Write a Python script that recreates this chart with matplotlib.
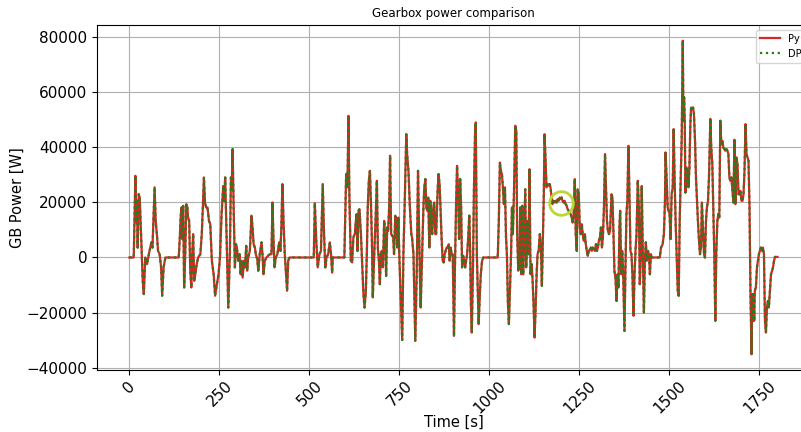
import matplotlib
matplotlib.use("Agg")
import matplotlib.pyplot as plt

title = "Gearbox power comparison"
x_label = "Time [s]"
y_label = "GB Power [W]"
series_names = ["Py", "DP"]
x_ticks = [0, 250, 500, 750, 1000, 1250, 1500, 1750]

time_s = [
    0, 12, 16.6, 19, 21, 23, 26, 28.7, 32, 37, 40, 44, 49, 54, 58, 61, 64, 67.5, 70, 73,
    77, 79.5, 84, 88, 91, 95, 100, 137, 140, 142.6, 145, 146.6, 149.4, 152, 155, 158, 161, 163, 166, 169,
    172, 174.5, 177, 180, 183, 187, 191, 197, 201, 204, 207, 210, 213, 217, 221, 224.6, 229, 234, 238, 243,
    247.6, 251.5, 256, 260.6, 263.4, 266, 270, 274.6, 279, 282, 284, 286.7, 289.5, 293, 296, 298.6, 302, 306, 309, 311.6,
    314.5, 318, 320.8, 324.5, 327, 330, 334.6, 339, 342, 345, 348.6, 351, 355, 358, 362, 367, 369.6, 372.4, 376, 380.7,
    385, 390, 394.6, 397.4, 400, 403, 406.6, 411, 416, 419.5, 422, 425, 428, 431.5, 435, 438, 441, 444.5, 512, 515,
    519, 523, 528, 532, 537, 540, 544, 547.5, 552, 556.6, 560, 563, 565, 597, 602, 605.6, 608.4, 611, 615, 618.6,
    622, 626, 629, 631, 633.5, 636.4, 639, 643, 646.6, 650, 653, 656.6, 659.4, 662, 665, 668, 670.7, 673.5, 676, 680,
    683.6, 687.4, 690, 693, 695.6, 698.4, 701, 704, 707.6, 710.4, 713, 716, 718.6, 721.4, 724, 727, 730, 732.6, 735, 738.4,
    741, 744, 747, 749.5, 752, 757.7, 761, 765, 769, 771.4, 775, 779, 783, 785, 789, 794, 798, 801.6, 804, 807.5,
    809, 813, 816.6, 819, 822, 824.7, 827.5, 830, 833, 835.7, 838.5, 841, 844, 846.6, 849.5, 852, 856, 858.6, 861.4, 864,
    867, 870, 873, 875.6, 878.4, 881, 884, 887, 889.5, 892.4, 895, 898, 901.5, 904, 907.3, 910, 913, 915.6, 918.6, 921.4,
    924, 927, 930, 932.6, 935.4, 938, 941, 944, 946.6, 948.5, 951, 954.5, 957, 960, 962, 965, 967.5, 970, 973, 976,
    979.5, 983, 1023, 1026, 1029, 1032, 1034.6, 1037.4, 1040, 1043, 1046, 1048.5, 1051.3, 1054, 1057, 1060, 1062.5, 1065, 1068, 1071.7,
    1074.5, 1077, 1080, 1083, 1085.6, 1088.5, 1091, 1094, 1097, 1099.4, 1102, 1106, 1108.5, 1111.3, 1114, 1117, 1119.7, 1122.5, 1125.3, 1128,
    1131, 1133.6, 1136.5, 1140, 1143, 1145.6, 1148.5, 1151, 1153, 1155.6, 1158.4, 1161, 1164, 1167, 1169.5, 1172.4, 1175, 1178, 1181, 1183.6,
    1186.4, 1189, 1192, 1195, 1197.6, 1200.4, 1203, 1206, 1209, 1211.6, 1214.4, 1217, 1220, 1223, 1225.6, 1228.4, 1231, 1234, 1237, 1239.7,
    1242.5, 1245, 1248, 1251, 1253.6, 1256.5, 1259, 1262, 1265, 1267.6, 1270.4, 1273, 1276, 1279, 1281.6, 1284.4, 1287, 1290, 1293, 1295.6,
    1298.4, 1301, 1304, 1307, 1309.6, 1312.4, 1315, 1318, 1321, 1323.6, 1326.4, 1329, 1332, 1335, 1339, 1341.6, 1344.5, 1347, 1350, 1353,
    1355.6, 1358.4, 1361, 1363, 1366, 1368.6, 1371, 1375, 1377.6, 1380.5, 1383, 1386, 1389, 1391.6, 1394.4, 1397, 1400, 1403, 1405.6, 1408.4,
    1412, 1415, 1417.6, 1420.4, 1423, 1426, 1429, 1431.6, 1434.4, 1437, 1440, 1443, 1445.6, 1448.4, 1451, 1473, 1476.5, 1481, 1484.5, 1487.5,
    1489, 1492, 1495, 1497.6, 1500.4, 1503, 1506, 1509, 1511.6, 1514.4, 1517, 1520, 1523, 1525.6, 1528.4, 1531, 1534, 1537, 1538.7, 1540.6,
    1542.4, 1544.3, 1547, 1550, 1552.6, 1555.4, 1558, 1560, 1562.6, 1565.5, 1568, 1571, 1573.6, 1576.4, 1579, 1582, 1584.7, 1587.5, 1590, 1593,
    1596, 1598.6, 1601.4, 1604, 1607, 1610, 1613.5, 1616, 1619, 1621.7, 1624.5, 1627.3, 1630, 1633, 1635.7, 1638.4, 1641.2, 1644, 1647, 1649.6,
    1652.4, 1655, 1658, 1661, 1663.6, 1666.4, 1669, 1672, 1675, 1677.6, 1680.4, 1683, 1686, 1689, 1691.6, 1694.4, 1697, 1700, 1703, 1705.6,
    1708.4, 1711.2, 1714, 1716.7, 1719.5, 1722.3, 1725, 1728, 1730, 1731.6, 1733.5, 1735.3, 1737, 1740, 1743, 1745.6, 1748.4, 1751, 1754, 1757,
    1759.6, 1762.4, 1765.2, 1768, 1770.7, 1773.5, 1776, 1779, 1782, 1785, 1787.6, 1790.4, 1793, 1800,
]

py_power_w = [
    0, 0, 29700, 12700, 20600, 3600, 23000, 21800, 9700, -8500, -13300, 0, -2400, 1200, 3600, 5500, 3600, 15800, 25500, 13300,
    7300, 2400, 1200, -3600, -13900, -3600, 0, 0, 7300, 15200, 18200, 6700, 18800, -10900, 1200, 19400, 18200, 14500, 13300, -4800,
    -10900, 1200, 8500, -8500, -6100, -2400, 0, 1200, 8500, 18200, 29100, 20000, 18200, 18200, 13300, 12100, -1200, -6100, -13900, -9700,
    -6100, 0, 15800, 26000, 20600, 29100, 7300, -18200, 1200, 29100, 24800, 39400, 18200, -3600, 4800, 3600, -1200, 1200, -6100, -1200,
    -7300, -1200, -3600, 4200, -4800, 0, 2400, 15200, 10900, 4800, 3600, 1200, -600, -4800, 1200, 5500, 1200, -6100, -1200, 0,
    600, 1200, 1200, 20000, 7300, -3600, 0, 1200, 5500, 2400, 10900, 26700, 13300, 1200, -6100, -12100, -1200, 0, 0, 19700,
    6100, -3600, 1200, 2400, 26700, 10900, -3600, 0, 1200, 5500, 1200, -5500, 0, 0, 30300, 25500, 51500, 21800, -1200, -1800,
    7300, 8500, 13300, 15800, 2400, 17000, 17600, 8500, -2400, -13300, -18200, -12700, 1200, 18200, 27900, 31500, 20600, 6100, -14500, 1200,
    13300, 27900, 3600, -1200, -9700, 1200, 2400, -3600, 13300, 6100, -6700, 10900, 9700, 18200, 37000, 8500, 7900, 7300, 1200, 15200,
    13300, 3600, 14500, 1200, -8500, -30000, 1200, 21800, 44800, 37600, 31500, 18200, 8500, 7300, 1200, -30300, -6100, 31500, 13300, -10900,
    -18200, 1200, 18200, 25500, 28500, 18200, 17000, 21800, 3600, 20600, 13300, 8500, 18200, 20000, 8500, 8500, 24200, 30300, 26700, 18200,
    7300, -1200, -1800, 1200, 2400, 3600, 3600, 4800, -1200, 3600, 1200, 1200, -28500, -4800, 19400, 33300, 23000, 6700, 28500, 18200,
    -3600, 600, -1200, -3600, -1200, 1200, 7300, 15200, 1200, -16900, -27300, -1200, 25500, 44800, 49100, 1200, -10900, -24200, -14500, -6100,
    -1200, 0, 0, 13300, 34500, 31500, 30300, 25500, 19400, 25500, 7300, 1200, -16900, -24200, -10900, 1200, 18200, 8500, 23000, 47900,
    46100, 8500, -4800, -2400, 18200, -6100, 18800, -6100, 10900, 24800, -3600, 13300, 1200, 32100, -6100, -2400, -7900, -16900, -29100, -19400,
    -6100, 1200, 2400, 8500, 3600, -10300, 8500, 23000, 44800, 36400, 25500, 26700, 26100, 26700, 25500, 22400, 19400, 20600, 20000, 20600,
    20000, 21200, 20600, 21800, 21200, 21800, 20600, 20000, 20600, 19400, 18800, 17600, 17000, 16400, 15800, 14500, 12700, 15800, 28500, 8500,
    2400, 24800, 23000, 10900, 8500, 12100, 8500, 6100, 8500, 4800, 2400, 600, 2400, 3000, 3600, 2400, 3600, 3000, 2400, 4800,
    2400, 3600, 6100, 7300, 10900, 3600, 7300, 18200, 37600, 25500, 13300, 9700, 8500, 9700, 23000, 21800, 8500, -4800, -7300, -15800,
    -6100, -10900, 10900, 17000, -6100, 2400, -3600, -26700, -4800, 15800, 20600, 40600, 21800, 2400, 1200, -6100, -21200, -6100, 2400, 8500,
    27900, 18200, -9700, 1200, 26000, 1200, -20000, -1200, 5500, -1200, 2400, 1200, -6100, 1200, 0, 0, 3600, 4800, 8500, 20600,
    38200, 29100, 18200, 17000, 15800, 6700, 23000, 25500, 46700, 27900, 13300, 1200, -12100, -13900, 13300, 27900, 43600, 78800, 49700, 58200,
    49700, 23600, 32700, 31500, 25500, 32700, 48500, 54500, 53900, 54500, 52100, 42400, 29100, 20600, 13300, 6100, 1200, 3600, 20000, 10900,
    1200, 0, 13300, 18200, 20600, 30300, 50400, 40000, 34000, 18200, 1200, -23000, 1200, 13300, 15800, 14500, 49700, 41200, 42400, 40000,
    39400, 38800, 39400, 38800, 37600, 29100, 27900, 29100, 24200, 20000, 42800, 19400, 36400, 33900, 23000, 23000, 24200, 20600, 20600, 23000,
    31500, 48500, 37600, 36400, 35200, 18200, -13300, -35200, -13300, -23000, -13300, -23000, -12100, -10900, -3600, -1200, 1200, 2400, 3600, 2400,
    3600, 1200, -23000, -27300, -18200, -15800, -18200, -12100, -6100, -4800, -3600, -1200, 200, 200,
]

# DP result: overlaps the Py trace everywhere
dp_power_w = list(py_power_w)

marker_time_s = [1199]
marker_power_w = [19800]

fig = plt.figure(figsize=(8.01, 4.32), dpi=100)
ax = fig.add_axes([0.1211, 0.1435, 0.890, 0.7986])

ax.plot(time_s, py_power_w, color="#d62728", linewidth=1.6, linestyle="-", label=series_names[0])
ax.plot(time_s, dp_power_w, color="#2a7a1a", linewidth=1.6, linestyle=":", label=series_names[1])
ax.plot(marker_time_s, marker_power_w, marker="o", markersize=17, markerfacecolor="none",
        markeredgecolor="#bcd635", markeredgewidth=2.0, linestyle="none")

ax.set_xticks(x_ticks)
ax.tick_params(axis="x", labelsize=11, labelrotation=45, pad=2.5)
ax.tick_params(axis="y", labelsize=11)
ax.set_xlabel(x_label, fontsize=10.5, labelpad=-1)
ax.set_ylabel(y_label, fontsize=10.5, labelpad=1.5)
ax.set_title(title, fontsize=8.5)
ax.grid(True, color="#b0b0b0", linewidth=0.8)
ax.legend(loc="upper right", fontsize=7)

fig.savefig("out.png", dpi=100)
